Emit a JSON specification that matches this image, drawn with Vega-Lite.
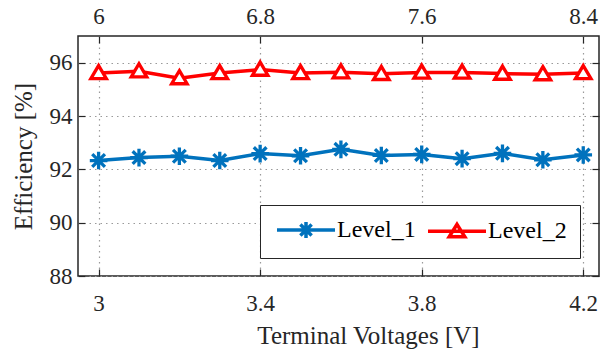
{
  "$schema": "https://vega.github.io/schema/vega-lite/v6.json",
  "width": 521,
  "height": 240,
  "autosize": {"type": "none"},
  "padding": {"left": 78, "top": 36, "right": 4, "bottom": 78},
  "background": "white",
  "config": {
    "view": {"stroke": "#262626", "strokeWidth": 1.5},
    "font": "Liberation Serif",
    "axis": {
      "labelFont": "Liberation Serif",
      "titleFont": "Liberation Serif",
      "labelFontSize": 23,
      "titleFontSize": 25,
      "labelColor": "#262626",
      "titleColor": "#262626",
      "titleFontWeight": "normal",
      "domain": false,
      "tickColor": "#262626",
      "tickSize": -7,
      "tickWidth": 1.2,
      "gridColor": "#9a9a9a",
      "gridDash": [1.5, 4],
      "gridWidth": 1.2,
      "labelFlush": false,
      "labelOverlap": false
    },
    "legend": {
      "orient": "none", "legendX": 182, "legendY": 169,
      "direction": "horizontal",
      "labelFont": "Liberation Serif", "labelFontSize": 24, "labelColor": "#000000",
      "strokeColor": "#262626", "fillColor": "white", "padding": 13,
      "symbolSize": 256, "symbolStrokeWidth": 3.5, "symbolOpacity": 1,
      "labelOffset": 40, "columnPadding": 5
    }
  },
  "data": {
    "values": [
      {"v": 3.0, "eff": 92.33, "series": "Level_1"},
      {"v": 3.1, "eff": 92.44, "series": "Level_1"},
      {"v": 3.2, "eff": 92.49, "series": "Level_1"},
      {"v": 3.3, "eff": 92.33, "series": "Level_1"},
      {"v": 3.4, "eff": 92.59, "series": "Level_1"},
      {"v": 3.5, "eff": 92.51, "series": "Level_1"},
      {"v": 3.6, "eff": 92.75, "series": "Level_1"},
      {"v": 3.7, "eff": 92.52, "series": "Level_1"},
      {"v": 3.8, "eff": 92.56, "series": "Level_1"},
      {"v": 3.9, "eff": 92.40, "series": "Level_1"},
      {"v": 4.0, "eff": 92.60, "series": "Level_1"},
      {"v": 4.1, "eff": 92.36, "series": "Level_1"},
      {"v": 4.2, "eff": 92.54, "series": "Level_1"},
      {"v": 3.0, "eff": 95.61, "series": "Level_2"},
      {"v": 3.1, "eff": 95.68, "series": "Level_2"},
      {"v": 3.2, "eff": 95.42, "series": "Level_2"},
      {"v": 3.3, "eff": 95.61, "series": "Level_2"},
      {"v": 3.4, "eff": 95.74, "series": "Level_2"},
      {"v": 3.5, "eff": 95.61, "series": "Level_2"},
      {"v": 3.6, "eff": 95.64, "series": "Level_2"},
      {"v": 3.7, "eff": 95.58, "series": "Level_2"},
      {"v": 3.8, "eff": 95.63, "series": "Level_2"},
      {"v": 3.9, "eff": 95.63, "series": "Level_2"},
      {"v": 4.0, "eff": 95.59, "series": "Level_2"},
      {"v": 4.1, "eff": 95.57, "series": "Level_2"},
      {"v": 4.2, "eff": 95.61, "series": "Level_2"}
    ]
  },
  "layer": [
    {
      "mark": {"type": "line", "strokeWidth": 3.5},
      "encoding": {
        "x": {
          "field": "v", "type": "quantitative",
          "scale": {"domain": [2.949, 4.239], "nice": false, "zero": false},
          "axis": {
            "orient": "bottom", "values": [3, 3.4, 3.8, 4.2], "grid": true, "format": "~g",
            "title": "Terminal Voltages [V]", "labelPadding": 23.4,
            "titleBaseline": "alphabetic", "titleY": 67, "titleX": 290, "titleAlign": "center"
          }
        },
        "y": {
          "field": "eff", "type": "quantitative",
          "scale": {"domain": [88, 97], "nice": false, "zero": false},
          "axis": {
            "orient": "left", "values": [88, 90, 92, 94, 96], "grid": true,
            "title": "Efficiency [%]", "labelPadding": 13,
            "titleBaseline": "alphabetic", "titleX": -47, "titleAngle": 270, "titleAlign": "center"
          }
        },
        "color": {
          "field": "series", "type": "nominal",
          "scale": {"domain": ["Level_1", "Level_2"], "range": ["#0072BD", "#FF0000"]},
          "legend": null
        }
      }
    },
    {
      "mark": {"type": "point", "filled": false, "fill": "white", "fillOpacity": 1, "opacity": 1, "strokeWidth": 3.3, "size": 310},
      "encoding": {
        "x": {"field": "v", "type": "quantitative", "axis": null},
        "y": {"field": "eff", "type": "quantitative", "axis": null},
        "color": {
          "field": "series", "type": "nominal",
          "scale": {"domain": ["Level_1", "Level_2"], "range": ["#0072BD", "#FF0000"]},
          "legend": null
        },
        "shape": {
          "field": "series", "type": "nominal",
          "scale": {
            "domain": ["Level_1", "Level_2"],
            "range": [
              "M0,-1V1M-0.72,-0.72L0.72,0.72M-0.72,0.72L0.72,-0.72M-1,0H1",
              "M0,-0.85L0.88,0.64L-0.88,0.64Z"
            ]
          },
          "legend": null
        }
      }
    },
    {
      "mark": {"type": "point", "opacity": 0, "filled": false},
      "encoding": {
        "x": {
          "field": "v", "type": "quantitative",
          "axis": {
            "orient": "top", "values": [3, 3.4, 3.8, 4.2], "grid": false, "title": null,
            "labelExpr": "format(datum.value*2, '~g')", "labelPadding": 15
          }
        },
        "y": {
          "field": "eff", "type": "quantitative",
          "axis": {"orient": "right", "values": [88, 90, 92, 94, 96], "grid": false, "labels": false, "title": null}
        },
        "color": {
          "field": "series", "type": "nominal",
          "scale": {"domain": ["Level_1", "Level_2"], "range": ["#0072BD", "#FF0000"]},
          "legend": {"title": null}
        },
        "shape": {
          "field": "series", "type": "nominal",
          "scale": {
            "domain": ["Level_1", "Level_2"],
            "range": [
              "M-1,0H6.25M2.625,-1V1M1.92,-0.7L3.33,0.7M1.92,0.7L3.33,-0.7",
              "M-1,0H6.25M2.625,-0.85L3.6,0.7L1.65,0.7Z"
            ]
          },
          "legend": {
            "title": null,
            "encode": {
              "legend": {"update": {"strokeWidth": {"value": 1.5}}}
            }
          }
        }
      }
    }
  ],
  "resolve": {
    "scale": {"shape": "independent", "color": "independent"},
    "axis": {"x": "independent", "y": "independent"},
    "legend": {"color": "independent", "shape": "independent"}
  }
}
